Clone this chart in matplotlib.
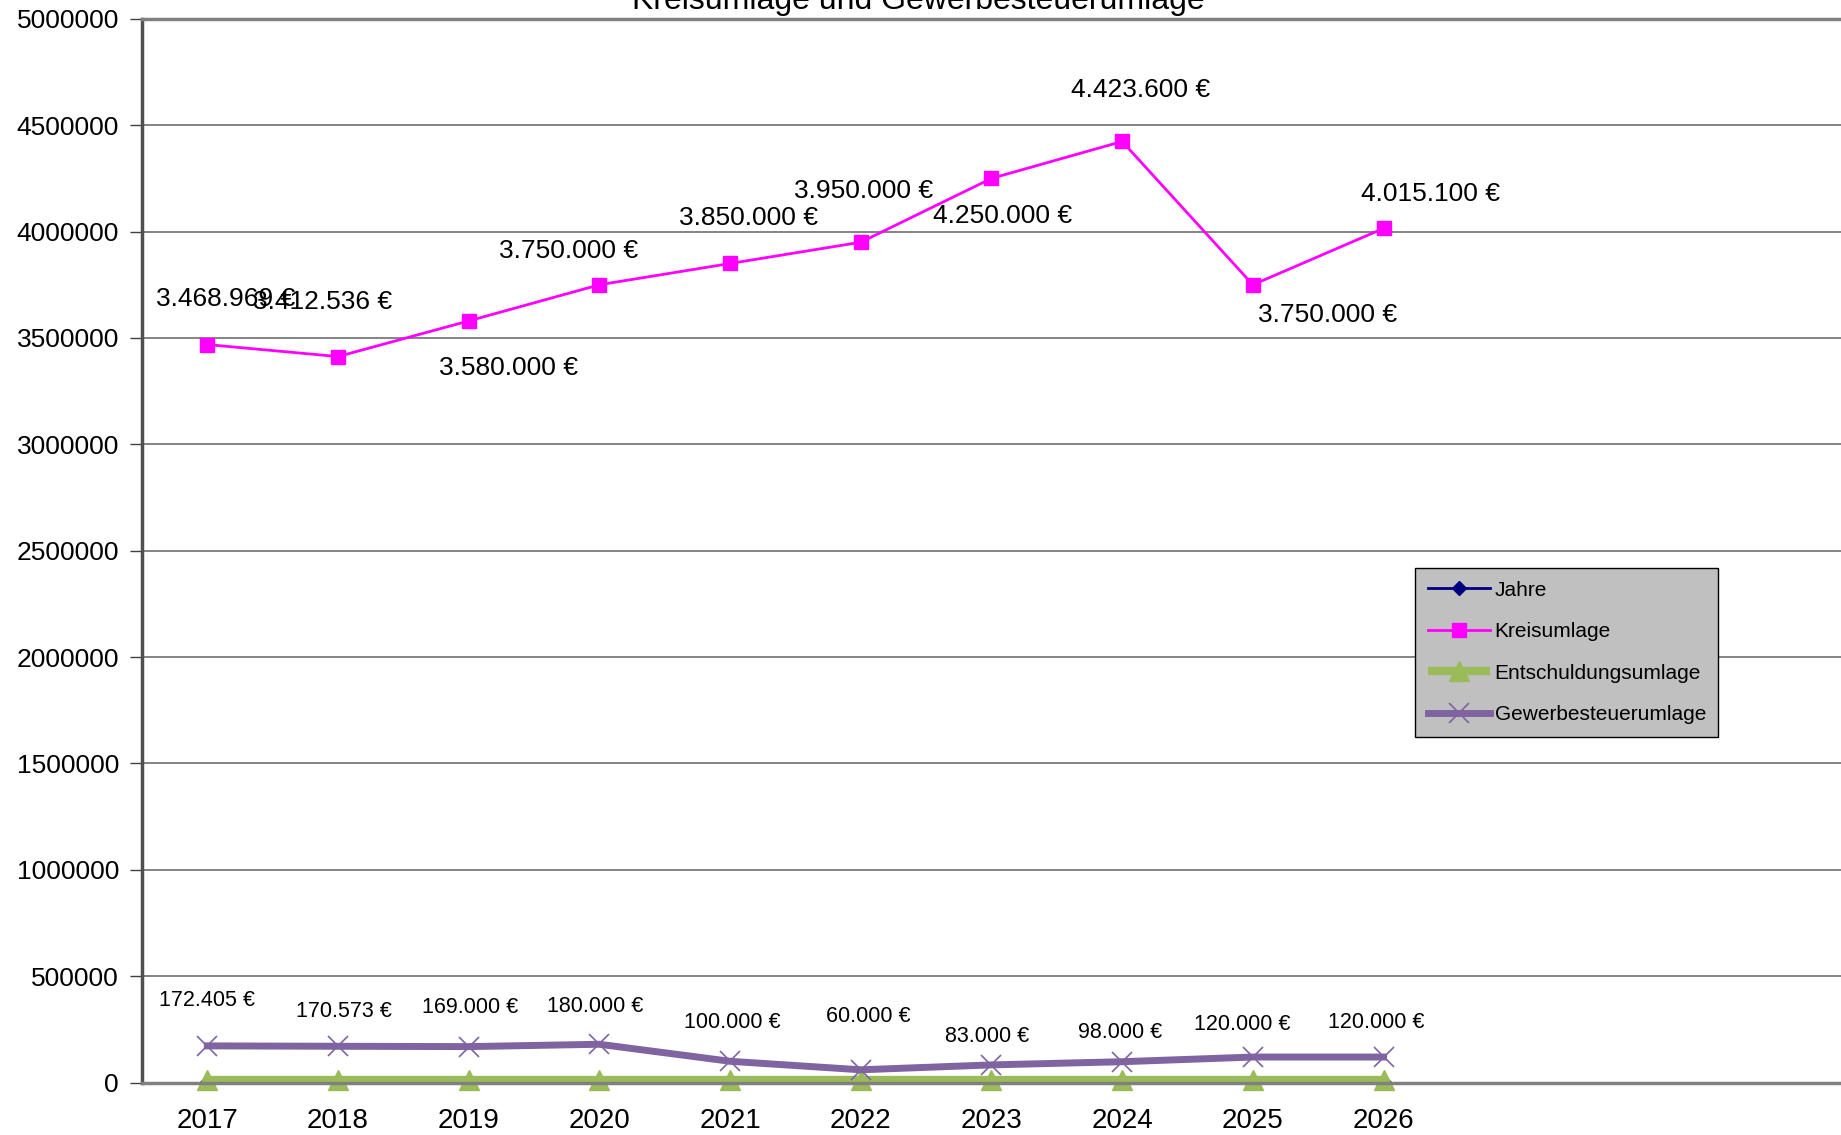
import numpy as np
import matplotlib
matplotlib.use('Agg')
import matplotlib.pyplot as plt

plt.rcParams['font.family'] = ['Liberation Sans', 'DejaVu Sans']

jahre_labels = ['2017', '2018', '2019', '2020', '2021', '2022', '2023', '2024', '2025', '2026']
jahre = [2017, 2018, 2019, 2020, 2021, 2022, 2023, 2024, 2025, 2026]
kreisumlage = [3468969, 3412536, 3580000, 3750000, 3850000, 3950000, 4250000, 4423600, 3750000, 4015100]
entschuldungsumlage = [10000, 10000, 10000, 10000, 10000, 10000, 10000, 10000, 10000, 10000]
gewerbesteuerumlage = [172405, 170573, 169000, 180000, 100000, 60000, 83000, 98000, 120000, 120000]

# Beschriftungsversatz in Pixel (manuell verschoben wie in der Vorlage)
off_kreis = [(18, 46), (-15, 55), (40, -47), (-31, 34), (18, 45), (3, 51), (11, -38), (18, 51), (75, -30), (47, 34)]
off_gew = [(0, 45), (6, 35), (1, 39), (-4, 38), (2, 39), (8, 53), (-4, 28), (-2, 29), (-11, 33), (-7, 35)]

def euro(v):
    return '{:,}'.format(v).replace(',', '.') + ' €'

fig = plt.figure(figsize=(18.41, 11.35), dpi=100)
ax = fig.add_axes([0.0771, 0.0462, 0.9229, 0.9372])

x = np.arange(len(jahre))
ax.plot(x, jahre, color='#000080', marker='D', markersize=7, linewidth=2, label='Jahre')
ax.plot(x, kreisumlage, color='#FF00FF', marker='s', markersize=10, linewidth=2, label='Kreisumlage')
ax.plot(x, entschuldungsumlage, color='#9BBB59', marker='^', markersize=15, linewidth=6,
        solid_capstyle='butt', clip_on=False, label='Entschuldungsumlage')
ax.plot(x, gewerbesteuerumlage, color='#8064A2', marker='x', markersize=15, markeredgewidth=1.2,
        linewidth=5, clip_on=False, label='Gewerbesteuerumlage')

for i, v in enumerate(kreisumlage):
    ax.annotate(euro(v), (x[i], v), xytext=off_kreis[i], textcoords='offset pixels',
                ha='center', va='center', fontsize=19)
for i, v in enumerate(gewerbesteuerumlage):
    ax.annotate(euro(v), (x[i], v), xytext=off_gew[i], textcoords='offset pixels',
                ha='center', va='center', fontsize=15.5)

ax.set_xlim(-0.5, 12.5)
ax.set_ylim(0, 5000000)
ax.set_yticks(np.arange(0, 5000001, 500000))
ax.set_yticklabels([str(t) for t in range(0, 5000001, 500000)], fontsize=19)
ax.set_xticks(x)
ax.set_xticklabels(jahre_labels, fontsize=20)
ax.tick_params(axis='x', length=0, pad=18)
ax.tick_params(axis='y', length=9, width=1, color='#404040', pad=7.5)
ax.grid(axis='y', color='#707070', linewidth=1.2)
ax.set_axisbelow(True)

ax.spines['left'].set_color('#505050')
ax.spines['left'].set_linewidth(2.5)
ax.spines['bottom'].set_color('#808080')
ax.spines['bottom'].set_linewidth(2.5)
ax.spines['top'].set_color('#808080')
ax.spines['top'].set_linewidth(2.5)
ax.spines['right'].set_visible(False)

leg = ax.legend(loc='upper left', bbox_to_anchor=(0.7495, 0.4837), fontsize=15,
                frameon=True, fancybox=False, framealpha=1, facecolor='#C0C0C0',
                edgecolor='black', handlelength=3.0, labelspacing=1.08, borderpad=0.6,
                handletextpad=0.2, borderaxespad=0)
leg.get_frame().set_linewidth(1)

fig.text(0.499, 0.999, 'Kreisumlage und Gewerbesteuerumlage', ha='center', va='center',
         fontsize=23)

fig.savefig('out.png', dpi=100)
